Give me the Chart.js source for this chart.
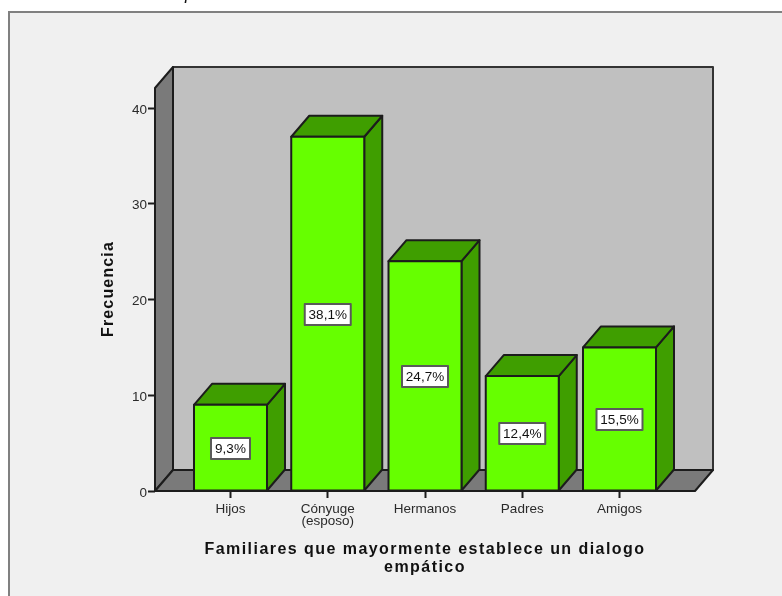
<!DOCTYPE html>
<html><head><meta charset="utf-8">
<script src="https://cdn.jsdelivr.net/npm/chart.js@4"></script>
<style>html,body{margin:0;padding:0;background:#fff}canvas{display:block}</style>
</head><body>
<canvas id="c" width="782" height="596"></canvas>
<script>
const categories = ["Hijos", ["Cónyuge", "(esposo)"], "Hermanos", "Padres", "Amigos"];
const frequencies = [9, 37, 24, 12, 15];
const percentLabels = ["9,3%", "38,1%", "24,7%", "12,4%", "15,5%"];
const yTicks = [0, 10, 20, 30, 40];
const yTitle = "Frecuencia";
const xTitleLines = ["Familiares que mayormente establece un dialogo", "empático"];
const cutOffTitle = "p";

const DX = 18, DY = 21;
const C = {bg:"#f0f0f0", frame:"#808080", wall:"#c0c0c0", side:"#7a7a7a", front:"#66ff00", shade:"#3f9e00", line:"#1c1c1c", text:"#2a2a2a"};

function poly(ctx, pts, fill, stroke, w) {
  ctx.beginPath();
  pts.forEach((p, i) => i ? ctx.lineTo(p[0], p[1]) : ctx.moveTo(p[0], p[1]));
  ctx.closePath();
  if (fill) { ctx.fillStyle = fill; ctx.fill(); }
  if (stroke) { ctx.strokeStyle = stroke; ctx.lineWidth = w || 2; ctx.lineJoin = "round"; ctx.stroke(); }
}

const box3d = {
  id: "box3d",
  beforeDraw(chart) {
    const {ctx, width, height} = chart;
    ctx.save();
    ctx.fillStyle = "#fff"; ctx.fillRect(0, 0, width, height);
    ctx.fillStyle = C.bg; ctx.fillRect(9, 12, width - 9, height - 12);
    ctx.strokeStyle = C.frame; ctx.lineWidth = 2;
    ctx.beginPath(); ctx.moveTo(9, height); ctx.lineTo(9, 12); ctx.lineTo(width, 12); ctx.stroke();
    ctx.fillStyle = "#111"; ctx.font = "italic 18px 'Liberation Sans'"; ctx.textAlign = "left"; ctx.textBaseline = "alphabetic";
    ctx.fillText(cutOffTitle, 185, -1);
    ctx.restore();
  },
  beforeDatasetsDraw(chart) {
    const {ctx, scales:{x, y}} = chart;
    const L = x.left, R = x.right, T = y.top, B = y.getPixelForValue(0);
    ctx.save();
    poly(ctx, [[L+DX,T-DY],[R+DX,T-DY],[R+DX,B-DY],[L+DX,B-DY]], C.wall, "#333", 2);
    poly(ctx, [[L,T],[L+DX,T-DY],[L+DX,B-DY],[L,B]], C.side, C.line, 2);
    poly(ctx, [[L,B],[L+DX,B-DY],[R+DX,B-DY],[R,B]], C.side, C.line, 2);
    chart.getDatasetMeta(0).data.forEach(bar => {
      const l = bar.x - bar.width/2, r = bar.x + bar.width/2, t = bar.y, b = bar.base;
      poly(ctx, [[r,t],[r+DX,t-DY],[r+DX,b-DY],[r,b]], C.shade, C.line, 2);
      poly(ctx, [[l,t],[l+DX,t-DY],[r+DX,t-DY],[r,t]], C.shade, C.line, 2);
    });
    ctx.restore();
  },
  afterDatasetsDraw(chart) {
    const {ctx} = chart;
    ctx.save();
    ctx.font = "13.5px 'Liberation Sans'"; ctx.textAlign = "center"; ctx.textBaseline = "middle";
    chart.getDatasetMeta(0).data.forEach((bar, i) => {
      const l = bar.x - bar.width/2, r = bar.x + bar.width/2;
      poly(ctx, [[l,bar.y],[r,bar.y],[r,bar.base],[l,bar.base]], null, C.line, 2);
      const cy = Math.round((bar.y + bar.base)/2) + .5, txt = percentLabels[i];
      const w = Math.round(ctx.measureText(txt).width) + 8, h = 21;
      ctx.fillStyle = "#fff"; ctx.fillRect(bar.x - w/2, cy - h/2, w, h);
      ctx.strokeStyle = "#5a5a5a"; ctx.lineWidth = 2; ctx.strokeRect(bar.x - w/2, cy - h/2, w, h);
      ctx.fillStyle = "#111"; ctx.fillText(txt, bar.x, cy + .5);
    });
    ctx.restore();
  },
  afterDraw(chart) {
    const {ctx} = chart;
    ctx.save();
    ctx.fillStyle = "#111"; ctx.textAlign = "center"; ctx.textBaseline = "middle";
    ctx.font = "bold 16px 'Liberation Sans'"; ctx.letterSpacing = "1.45px";
    xTitleLines.forEach((s, i) => ctx.fillText(s, 425, 549.5 + i*18));
    ctx.letterSpacing = "1.15px";
    ctx.translate(109, 289); ctx.rotate(-Math.PI/2);
    ctx.fillText(yTitle, 0, 0);
    ctx.restore();
  }
};

new Chart(document.getElementById("c"), {
  type: "bar",
  data: {
    labels: categories,
    datasets: [{
      label: yTitle,
      data: frequencies.map((v, i) => ({x: i, y: v})),
      backgroundColor: C.front,
      borderWidth: 0,
      barThickness: 73
    }]
  },
  plugins: [box3d],
  options: {
    responsive: false,
    animation: false,
    events: [],
    layout: {padding: {left: 0, top: 88, right: 87, bottom: 0}},
    plugins: {legend: {display: false}, tooltip: {enabled: false}, title: {display: false}},
    scales: {
      x: {
        type: "linear",
        offset: false,
        min: -0.7763, max: 4.7763,
        afterBuildTicks: s => { s.ticks = categories.map((_, i) => ({value: i})); },
        afterFit: s => { s.height = 105; },
        grid: {display: true, offset: false, drawOnChartArea: false, drawTicks: true, tickLength: 7, tickColor: C.line, tickWidth: 2},
        border: {display: false},
        ticks: {
          callback: v => categories[v], autoSkip: false, maxRotation: 0, minRotation: 0, padding: 5,
          color: C.text, font: {family: "'Liberation Sans'", size: 13.5, lineHeight: 0.9}
        }
      },
      y: {
        type: "linear",
        min: 0, max: 42.09,
        afterBuildTicks: s => { s.ticks = yTicks.map(v => ({value: v})); },
        afterFit: s => { s.width = 155; },
        grid: {display: true, drawOnChartArea: false, drawTicks: true, tickLength: 7, tickColor: C.line, tickWidth: 2},
        border: {display: false},
        ticks: {padding: 1, labelOffset: 2, color: C.text, font: {family: "'Liberation Sans'", size: 13.5}}
      }
    }
  }
});
</script>
</body></html>
